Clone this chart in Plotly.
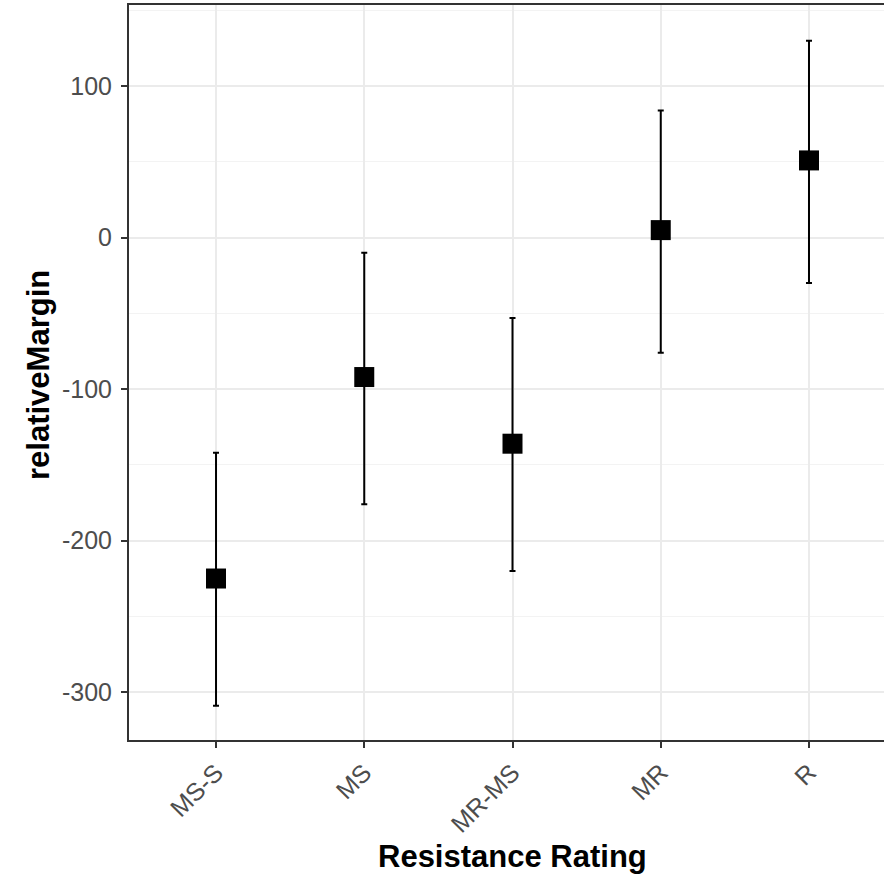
import plotly.graph_objects as go

categories = ["MS-S", "MS", "MR-MS", "MR", "R"]
means = [-225, -92, -136, 5, 51]
upper = [-142, -10, -53, 84, 130]
lower = [-309, -176, -220, -76, -30]

y_ticks = [-300, -200, -100, 0, 100]
y_tick_labels = ["-300", "-200", "-100", "0", "100"]

err_plus = [u - m for u, m in zip(upper, means)]
err_minus = [m - l for m, l in zip(means, lower)]

fig = go.Figure()
fig.add_trace(go.Scatter(
    x=categories, y=means, mode="markers",
    marker=dict(symbol="square", size=20, color="black"),
    error_y=dict(type="data", symmetric=False, array=err_plus, arrayminus=err_minus,
                 color="black", thickness=2, width=3),
    showlegend=False,
))

plot_h = 878 - 5 - 138

fig.update_layout(
    width=884, height=878,
    margin=dict(l=129, r=0, t=5, b=138),
    plot_bgcolor="white", paper_bgcolor="white",
    font=dict(family="Liberation Sans, Arial, sans-serif"),
    xaxis=dict(
        type="category", range=[-0.587, 4.506], automargin=False,
        tickangle=-45, tickfont=dict(size=25, color="#4D4D4D"),
        showgrid=True, gridcolor="#EBEBEB", gridwidth=1.5,
        showline=True, linecolor="#333333", linewidth=2, mirror=True,
        ticks="outside", ticklen=6, tickcolor="#333333", tickwidth=2,
        zeroline=False,
    ),
    yaxis=dict(
        range=[-331.6, 153.6], automargin=False,
        tickvals=y_ticks, ticktext=y_tick_labels,
        tickfont=dict(size=25, color="#4D4D4D"), ticklabelstandoff=4,
        showgrid=True, gridcolor="#EBEBEB", gridwidth=1.5,
        minor=dict(dtick=50, showgrid=True, gridcolor="#F3F3F3", gridwidth=1),
        showline=True, linecolor="#333333", linewidth=2,
        ticks="outside", ticklen=6, tickcolor="#333333", tickwidth=2,
        zeroline=False,
    ),
    annotations=[
        dict(text="<b>Resistance Rating</b>", x=2, xref="x",
             y=(878 - 138 - 856) / plot_h, yref="paper", yanchor="middle",
             showarrow=False, font=dict(size=31, color="black")),
        dict(text="<b>relativeMargin</b>", textangle=-90,
             x=(38 - 129) / 755, xref="paper", xanchor="center",
             y=(878 - 138 - 375) / plot_h, yref="paper", yanchor="middle",
             showarrow=False, font=dict(size=31, color="black")),
    ],
)

fig.write_html("out.html")
